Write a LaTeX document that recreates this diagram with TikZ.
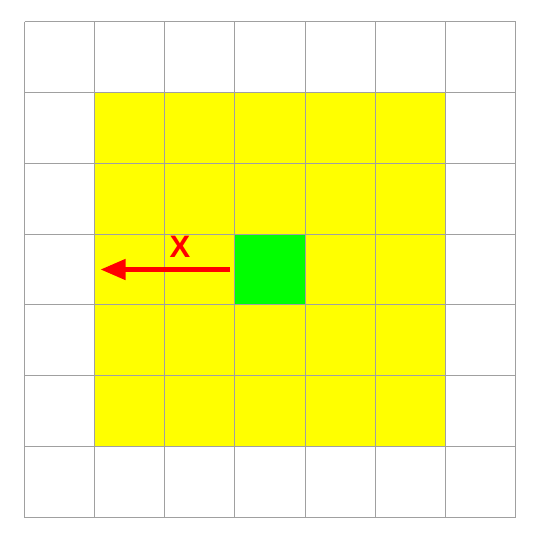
\documentclass[tikz,border=0pt]{standalone}
\usepackage{fontspec}
\setmainfont{Liberation Sans}
\usetikzlibrary{arrows.meta}
\definecolor{gridgray}{HTML}{A0A0A0}
\begin{document}
\begin{tikzpicture}[x=1pt,y=-1pt,
  gridline/.style={draw=gridgray,line width=1pt},
  yellowcell/.style={fill={rgb,255:red,255;green,255;blue,0}},
  greencell/.style={fill={rgb,255:red,0;green,255;blue,0}},
  redarrow/.style={draw=red,line width=4.5pt,-{Triangle[length=25pt,width=20pt]}},
  lbl/.style={text=red,font=\fontsize{31}{31}\selectfont\bfseries,inner sep=0pt}]
\useasboundingbox (0,0) rectangle (540,539);
\fill[white] (0,0) rectangle (540,539);
% yellow region
\path[yellowcell] (94.5,92) rectangle (445.5,446);
% green cell
\path[greencell] (234.5,234) rectangle (305,304);
% grid
\foreach \x in {24.5,94.5,164.5,234.5,305,375,445.5,515.5}
  \draw[gridline] (\x,21.5) -- (\x,517.5);
\foreach \y in {21.5,92,163,234,304,375,446,517.5}
  \draw[gridline] (24.5,\y) -- (515.5,\y);
% arrow
\coordinate (start) at (230,269.5);
\coordinate (tip) at (100.5,269.5);
\draw[redarrow] (start) -- (tip);
\node[lbl,anchor=base] (xlabel) at (180,257.5) {X};
\end{tikzpicture}
\end{document}
